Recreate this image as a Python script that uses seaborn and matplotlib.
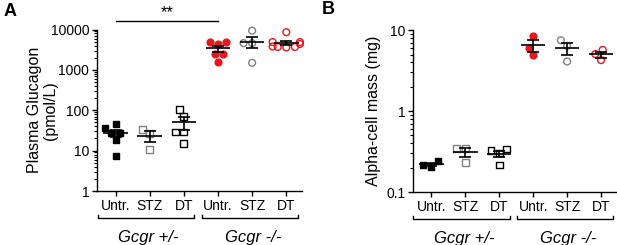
import numpy as np
import pandas as pd
import matplotlib
matplotlib.use("Agg")
import matplotlib.pyplot as plt
import matplotlib.ticker as mticker
from matplotlib.collections import PathCollection
import seaborn as sns

# ---------------- data ----------------
groups = ["Untr. +/-", "STZ +/-", "DT +/-", "Untr. -/-", "STZ -/-", "DT -/-"]
tick_labels = ["Untr.", "STZ", "DT", "Untr.", "STZ", "DT"]
genotype_labels = ["Gcgr +/-", "Gcgr -/-"]

glucagon_untr_het = [7.5, 18, 27, 28, 36, 45]
glucagon_stz_het = [10.7, 26.5, 33]
glucagon_dt_het = [15, 29, 29, 71, 106]
glucagon_untr_ko = [1560, 2410, 2410, 4270, 4880, 4880]
glucagon_stz_ko = [1500, 4600, 4600, 9400]
glucagon_dt_ko = [3600, 3700, 3700, 3800, 4400, 4900, 4900, 8600]

alpha_untr_het = [0.205, 0.216, 0.239]
alpha_stz_het = [0.233, 0.349, 0.349]
alpha_dt_het = [0.216, 0.303, 0.324, 0.34]
alpha_untr_ko = [4.9, 6.0, 8.5]
alpha_stz_ko = [4.1, 6.4, 7.5]
alpha_dt_ko = [4.26, 5.06, 5.7]

RED = "#e8161f"
GRAY = "#808080"
styles = [  # (marker, color, filled)
    ("s", "black", True),
    ("s", GRAY, False),
    ("s", "black", False),
    ("o", RED, True),
    ("o", GRAY, False),
    ("o", RED, False),
]

plt.rcParams["font.family"] = ["Liberation Sans", "DejaVu Sans"]

fig = plt.figure(figsize=(6.17, 2.45), dpi=100)
axA = fig.add_axes([0.157, 0.2204, 0.333, 0.659])
axB = fig.add_axes([0.669, 0.216, 0.331, 0.661])


def draw_panel(ax, series, ylim, ylabel, label_x):
    ax.set_yscale("log")
    ax.set_ylim(*ylim)
    for i, (vals, (mk, col, filled)) in enumerate(zip(series, styles)):
        df = pd.DataFrame({"group": groups[i], "value": vals})
        n_before = len(ax.collections)
        sns.swarmplot(data=df, x="group", y="value", order=groups, ax=ax,
                      marker=mk, color=col, size=4.9, linewidth=1.0,
                      edgecolor=col, warn_thresh=1.0)
        for coll in ax.collections[n_before:]:
            if isinstance(coll, PathCollection) and len(coll.get_offsets()) > 0:
                if not filled:
                    coll.set_facecolor("none")
                coll.set_edgecolor(col)
                coll.set_linewidth(1.0)
                coll.set_clip_on(False)
        v = np.asarray(vals, float)
        m = v.mean()
        se = v.std(ddof=1) / np.sqrt(len(v))
        ax.hlines(m, i - 0.36, i + 0.36, color="black", lw=1.2, zorder=5)
        ax.errorbar(i, m, yerr=se, fmt="none", ecolor="black", elinewidth=1.2,
                    capsize=4, capthick=1.2, zorder=5)
    ax.set_xlim(-0.55, 5.47)
    ax.set_xticks(range(len(groups)))
    ax.set_xticklabels(tick_labels, fontsize=10)
    ax.set_xlabel("")
    ax.set_ylabel(ylabel, fontsize=11.5, linespacing=1.1)
    ax.yaxis.set_label_coords(label_x, 0.5)
    ax.yaxis.set_major_formatter(mticker.FuncFormatter(lambda v, _: f"{v:g}"))
    ax.yaxis.set_minor_locator(mticker.LogLocator(base=10, subs=np.arange(2, 10)))
    ax.yaxis.set_minor_formatter(mticker.NullFormatter())
    ax.tick_params(axis="both", which="major", length=3.5, width=1, labelsize=10, pad=2)
    ax.tick_params(axis="y", which="minor", length=2, width=0.8)
    for s in ["top", "right"]:
        ax.spines[s].set_visible(False)
    for s in ["left", "bottom"]:
        ax.spines[s].set_linewidth(1)
    # group brackets
    tr = ax.get_xaxis_transform()
    for (x0, x1), lab in zip([(-0.53, 2.31), (2.52, 5.35)], genotype_labels):
        ax.plot([x0, x0, x1, x1], [-0.148, -0.168, -0.168, -0.148], color="black",
                lw=1, transform=tr, clip_on=False)
        ax.text((x0 + x1) / 2 + 0.08, -0.285, lab, transform=tr, ha="center", va="center",
                fontsize=12, style="italic")


draw_panel(axA, [glucagon_untr_het, glucagon_stz_het, glucagon_dt_het,
                 glucagon_untr_ko, glucagon_stz_ko, glucagon_dt_ko],
           (1, 10000), "Plasma Glucagon\n(pmol/L)", -0.19)
draw_panel(axB, [alpha_untr_het, alpha_stz_het, alpha_dt_het,
                 alpha_untr_ko, alpha_stz_ko, alpha_dt_ko],
           (0.1, 10), "Alpha-cell mass (mg)", -0.157)

# significance bar in panel A
axA.plot([0, 3], [1.6e4, 1.6e4], color="black", lw=1, clip_on=False)
axA.text(1.5, 1.75e4, "**", ha="center", va="bottom", fontsize=12, clip_on=False)

fig.text(0.006, 0.955, "A", fontsize=13, fontweight="bold", va="center")
fig.text(0.522, 0.96, "B", fontsize=13, fontweight="bold", va="center")

fig.savefig("out.png", dpi=100)
